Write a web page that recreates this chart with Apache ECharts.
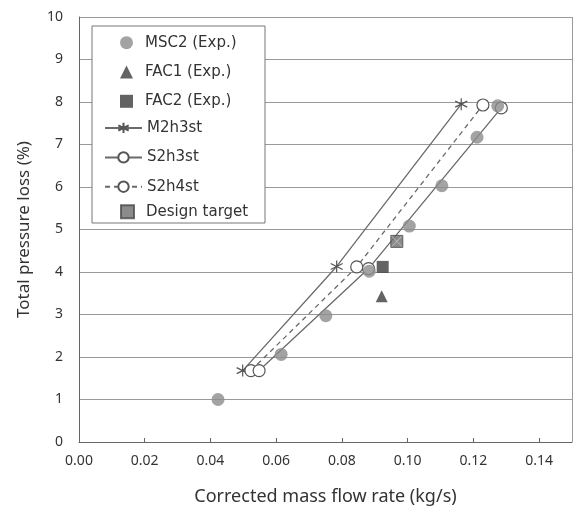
<!DOCTYPE html>
<html>
<head>
<meta charset="utf-8">
<script src="https://cdn.jsdelivr.net/npm/echarts@6/dist/echarts.min.js"></script>
<style>
html, body { margin: 0; padding: 0; background: #fff; }
#chart { width: 574px; height: 509px; }
</style>
</head>
<body>
<div id="chart"></div>
<script>
// values: [mass flow (kg/s), pressure loss (%)]
var msc2 = [[0.0423, 1.0], [0.0615, 2.06], [0.0751, 2.97], [0.0883, 4.02], [0.1005, 5.08], [0.1104, 6.03], [0.1211, 7.17], [0.1274, 7.91]];
var fac1 = [[0.0921, 3.43]];
var fac2 = [[0.0924, 4.12]];
var m2h3st = [[0.0498, 1.68], [0.0784, 4.13], [0.1163, 7.95]];
var s2h3st = [[0.0548, 1.68], [0.0881, 4.08], [0.1285, 7.86]];
var s2h4st = [[0.0523, 1.68], [0.0845, 4.12], [0.1229, 7.93]];
var designTarget = [[0.0967, 4.72]];
var xTicks = [0, 0.02, 0.04, 0.06, 0.08, 0.10, 0.12, 0.14];

var font = 'Noto Sans, DejaVu Sans, sans-serif';
var legendFont = 'DejaVu Sans, sans-serif';
var lineGray = '#6a6a6a';
var asterisk = 'path://M5,0L5,10M0.7,2.5L9.3,7.5M9.3,2.5L0.7,7.5';
var crossBox = 'path://M0,0L10,10M10,0L0,10';

// legend is split in three blocks so the marker-only items keep small square icons
function legendBlock(names, left, top, iconW, textPad) {
    return {
        orient: 'vertical',
        left: left,
        top: top,
        padding: 0,
        itemGap: 14.3,
        itemWidth: iconW,
        itemHeight: 13,
        z: 6,
        textStyle: { color: '#333', fontSize: 15, fontFamily: legendFont, padding: [0, 0, 0, textPad] },
        data: names
    };
}

let chart = echarts.init(document.getElementById('chart'));
chart.setOption({
    animation: false,
    textStyle: { fontFamily: font },
    grid: { left: 79, right: 2, top: 17, bottom: 67, outerBoundsMode: 'none', containLabel: false },
    graphic: [{
        type: 'rect',
        z: 5,
        shape: { x: 92, y: 26, width: 173, height: 197 },
        style: { fill: '#fff', stroke: '#777', lineWidth: 1 }
    }],
    legend: [
        legendBlock(['MSC2 (Exp.)', 'FAC1 (Exp.)', 'FAC2 (Exp.)'], 120, 35.2, 13, 7),
        legendBlock(['M2h3st', 'S2h3st', 'S2h4st'], 104, 120.2, 37, 0),
        legendBlock(['Design target'], 120, 204.2, 13, 7)
    ],
    xAxis: {
        type: 'value',
        min: 0,
        max: 0.15,
        interval: 0.02,
        name: 'Corrected mass flow rate (kg/s)',
        nameLocation: 'middle',
        nameGap: 46,
        nameTextStyle: { fontSize: 18, color: '#333' },
        axisLine: { onZero: false, lineStyle: { color: '#666' } },
        axisTick: { inside: true, length: 4, lineStyle: { color: '#666' } },
        axisLabel: {
            color: '#333', fontSize: 14, margin: 12,
            formatter: function (v) {
                var ok = xTicks.some(function (t) { return Math.abs(t - v) < 1e-9; });
                return ok ? v.toFixed(2) : '';
            }
        },
        splitLine: { show: false }
    },
    yAxis: {
        type: 'value',
        min: 0,
        max: 10,
        interval: 1,
        name: 'Total pressure loss (%)',
        nameLocation: 'middle',
        nameGap: 46,
        nameTextStyle: { fontSize: 17, color: '#333' },
        axisLine: { show: true, lineStyle: { color: '#666' } },
        axisTick: { show: false },
        axisLabel: { color: '#333', fontSize: 14, margin: 16 },
        splitLine: { show: true, lineStyle: { color: '#999', width: 1 } }
    },
    series: [
        {
            // right edge of the plot frame
            name: 'frame',
            type: 'line',
            data: [],
            markLine: {
                silent: true,
                symbol: 'none',
                label: { show: false },
                lineStyle: { color: '#999', type: 'solid', width: 1 },
                data: [{ xAxis: 0.15 }]
            }
        },
        {
            name: 'M2h3st',
            type: 'line',
            data: m2h3st,
            symbol: asterisk,
            symbolSize: 12,
            lineStyle: { color: lineGray, width: 1.3 },
            itemStyle: { color: 'none', borderColor: '#555', borderWidth: 1.2 },
            z: 3
        },
        {
            name: 'S2h4st',
            type: 'line',
            data: s2h4st,
            symbol: 'circle',
            symbolSize: 12,
            lineStyle: { color: lineGray, width: 1.3, type: [5, 4] },
            itemStyle: { color: '#fff', borderColor: '#555', borderWidth: 1.2 },
            z: 3
        },
        {
            name: 'S2h3st',
            type: 'line',
            data: s2h3st,
            symbol: 'circle',
            symbolSize: 12,
            lineStyle: { color: lineGray, width: 1.3 },
            itemStyle: { color: '#fff', borderColor: '#555', borderWidth: 1.2 },
            z: 3
        },
        {
            name: 'MSC2 (Exp.)',
            type: 'scatter',
            data: msc2,
            symbol: 'circle',
            symbolSize: 13,
            itemStyle: { color: '#8c8c8c' },
            z: 4
        },
        {
            name: 'FAC1 (Exp.)',
            type: 'scatter',
            data: fac1,
            symbol: 'triangle',
            symbolSize: 12,
            itemStyle: { color: '#3c3c3c' },
            z: 4
        },
        {
            name: 'FAC2 (Exp.)',
            type: 'scatter',
            data: fac2,
            symbol: 'rect',
            symbolSize: 12,
            itemStyle: { color: '#3c3c3c' },
            z: 4
        },
        {
            name: 'Design target',
            type: 'scatter',
            data: designTarget,
            symbol: 'rect',
            symbolSize: 12,
            itemStyle: { color: '#6e6e6e', borderColor: '#4a4a4a', borderWidth: 1 },
            z: 4
        },
        {
            name: 'target cross',
            type: 'scatter',
            data: designTarget,
            symbol: crossBox,
            symbolSize: 10,
            itemStyle: { color: 'none', borderColor: '#c8c8c8', borderWidth: 1 },
            z: 5
        }
    ]
});
</script>
</body>
</html>
